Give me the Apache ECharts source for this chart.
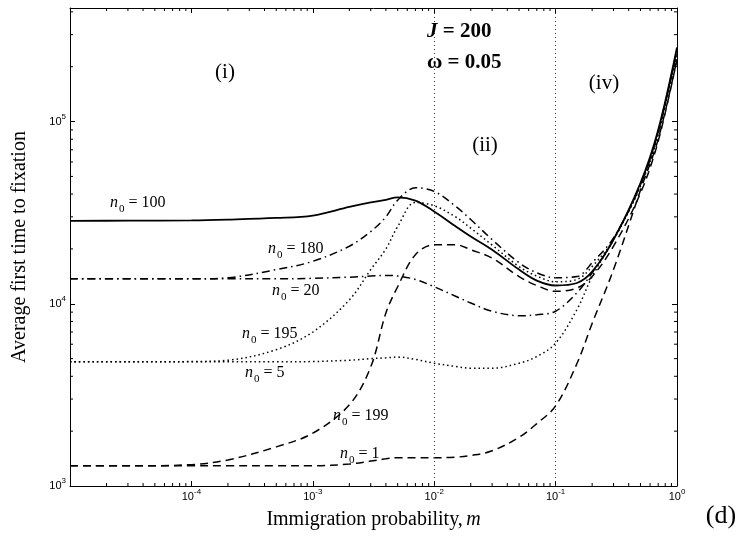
<!DOCTYPE html>
<html><head><meta charset="utf-8">
<script src="https://cdn.jsdelivr.net/npm/echarts@6/dist/echarts.min.js"></script>
<style>html,body{margin:0;padding:0;background:#fff}#c{width:738px;height:554px}</style>
</head><body><div id="c"></div>
<script>
// Immigration probability m (x grid)
const M = [1e-5, 3e-5, 1e-4, 2e-4, 5e-4, 1e-3, 2e-3, 3e-3, 4e-3, 5e-3, 7e-3, 1e-2, 1.5e-2, 2e-2, 3e-2, 5e-2, 7e-2, 0.1, 0.15, 0.2, 0.3, 0.5, 0.7, 1];
// Average first time to fixation, per initial abundance n0
const N100 = [2.85e4, 2.86e4, 2.87e4, 2.9e4, 2.96e4, 3.05e4, 3.4e4, 3.6e4, 3.72e4, 3.84e4, 3.68e4, 3.21e4, 2.66e4, 2.34e4, 1.98e4, 1.54e4, 1.34e4, 1.26e4, 1.30e4, 1.50e4, 2.25e4, 4.6e4, 9.0e4, 2.55e5];
const N180 = [1.37e4, 1.37e4, 1.37e4, 1.39e4, 1.54e4, 1.71e4, 2.07e4, 2.49e4, 3.0e4, 3.7e4, 4.33e4, 4.14e4, 3.43e4, 2.9e4, 2.25e4, 1.68e4, 1.48e4, 1.39e4, 1.41e4, 1.68e4, 2.3e4, 4.5e4, 8.8e4, 2.5e5];
const N20 = [1.37e4, 1.37e4, 1.37e4, 1.37e4, 1.37e4, 1.38e4, 1.40e4, 1.42e4, 1.43e4, 1.42e4, 1.36e4, 1.24e4, 1.10e4, 1.01e4, 9.1e3, 8.6e3, 8.7e3, 9.1e3, 1.15e4, 1.48e4, 2.25e4, 4.5e4, 8.8e4, 2.45e5];
const N195 = [4.8e3, 4.8e3, 4.82e3, 4.9e3, 5.6e3, 7.0e3, 1.05e4, 1.54e4, 2.0e4, 2.65e4, 3.6e4, 3.45e4, 3.0e4, 2.6e4, 2.1e4, 1.6e4, 1.42e4, 1.32e4, 1.36e4, 1.6e4, 2.25e4, 4.5e4, 8.7e4, 2.45e5];
const N199 = [1.29e3, 1.29e3, 1.31e3, 1.39e3, 1.64e3, 1.95e3, 2.79e3, 4.5e3, 8.9e3, 1.24e4, 1.86e4, 2.11e4, 2.11e4, 1.98e4, 1.78e4, 1.41e4, 1.26e4, 1.17e4, 1.22e4, 1.41e4, 2.07e4, 4.05e4, 7.8e4, 2.2e5];
const N5 = [4.8e3, 4.8e3, 4.8e3, 4.8e3, 4.8e3, 4.82e3, 4.9e3, 5.0e3, 5.05e3, 5.1e3, 4.95e3, 4.72e3, 4.53e3, 4.43e3, 4.43e3, 4.72e3, 5.13e3, 6.08e3, 9.3e3, 1.41e4, 2.25e4, 4.4e4, 8.5e4, 2.4e5];
const N1 = [1.29e3, 1.29e3, 1.29e3, 1.29e3, 1.29e3, 1.29e3, 1.32e3, 1.37e3, 1.41e3, 1.43e3, 1.43e3, 1.43e3, 1.44e3, 1.47e3, 1.56e3, 1.85e3, 2.2e3, 2.75e3, 4.7e3, 7.8e3, 1.54e4, 4.2e4, 8.0e4, 2.2e5];
// regime boundaries (vertical dotted lines)
const BOUNDS = [0.005, 0.1];
// axis ranges
const X_MIN = 1e-5, X_MAX = 1, Y_MIN = 1e3, Y_MAX = 4.2e5;

const serif = 'Liberation Serif';
const sans = 'Liberation Sans';

function minorTicks(lo, hi) {
  const out = [];
  for (let k = Math.floor(Math.log10(lo)); k <= Math.ceil(Math.log10(hi)); k++) {
    for (let j = 2; j <= 9; j++) { const v = j * Math.pow(10, k); if (v > lo && v < hi) out.push(v); }
  }
  return out;
}
const XMINOR = minorTicks(X_MIN, X_MAX);
const YMINOR = minorTicks(Y_MIN, Y_MAX);

function expLabel(skip) {
  return function (v) {
    const e = Math.log10(v); const r = Math.round(e);
    if (Math.abs(e - r) > 1e-6 || (skip && skip.indexOf(r) >= 0)) return '';
    return '{b|10}{e|' + r + '}';
  };
}
const expRich = {
  b: { fontFamily: sans, fontSize: 11, color: '#000' },
  e: { fontFamily: sans, fontSize: 8, color: '#000', padding: [0, 0, 10, 0] }
};

function mk(name, data, type, width) {
  return {
    name: name, type: 'line', xAxisIndex: 0, yAxisIndex: 0, symbol: 'none', smooth: 0.35,
    data: M.map((m, i) => [m, data[i]]),
    lineStyle: { color: '#000', width: width || 1.5, type: type },
    z: 3
  };
}
const DASH = [8, 5], DOT = [1.5, 3], DASHDOT = [8, 4, 1.5, 4];

const tickSeries = (vals, isX) => ({
  type: 'custom', xAxisIndex: 0, yAxisIndex: 0, silent: true, clip: false, z: 4,
  data: vals.map(v => isX ? [v, Y_MIN] : [X_MIN, v]),
  renderItem: function (params, api) {
    const cs = params.coordSys;
    const p = api.coord([api.value(0), api.value(1)]);
    const st = { stroke: '#000', lineWidth: 1 };
    if (isX) {
      return { type: 'group', children: [
        { type: 'line', shape: { x1: p[0], y1: cs.y + cs.height, x2: p[0], y2: cs.y + cs.height - 3 }, style: st },
        { type: 'line', shape: { x1: p[0], y1: cs.y, x2: p[0], y2: cs.y + 3 }, style: st }
      ] };
    }
    return { type: 'group', children: [
      { type: 'line', shape: { x1: cs.x, y1: p[1], x2: cs.x + 3, y2: p[1] }, style: st },
      { type: 'line', shape: { x1: cs.x + cs.width, y1: p[1], x2: cs.x + cs.width - 3, y2: p[1] }, style: st }
    ] };
  }
});

const axisCommon = {
  axisLine: { show: true, lineStyle: { color: '#000', width: 1 } },
  axisTick: { show: true, inside: true, length: 5, lineStyle: { color: '#000', width: 1 } },
  splitLine: { show: false }
};

const nRich = {
  n: { fontFamily: serif, fontStyle: 'italic', fontSize: 16, color: '#000' },
  s: { fontFamily: serif, fontSize: 11, color: '#000', padding: [13, 0, 0, 1] },
  t: { fontFamily: serif, fontSize: 16, color: '#000' }
};
function nLabel(txt, x, cy) {
  return { type: 'text', x: x, y: cy, z: 10, style: { text: '{n|n}{s|0}{t| = ' + txt + '}', rich: nRich, align: 'left', verticalAlign: 'middle' } };
}
function plain(txt, x, y, size) {
  return { type: 'text', x: x, y: y, z: 10, style: { text: txt, fontFamily: serif, fontSize: size, fill: '#000', align: 'center', verticalAlign: 'middle' } };
}

const chart = echarts.init(document.getElementById('c'), null, { renderer: 'canvas' });
chart.setOption({
  animation: false,
  backgroundColor: '#fff',
  grid: { left: 70, right: 61, top: 8, bottom: 68, show: false },
  xAxis: [
    Object.assign({}, axisCommon, {
      type: 'log', logBase: 10, min: X_MIN, max: X_MAX, position: 'bottom',
      axisLabel: { formatter: expLabel([-5]), rich: expRich, margin: 2, showMinLabel: true, showMaxLabel: true },
      name: '{a|Immigration probability,} {m|m}', nameLocation: 'middle', nameGap: 24,
      nameTextStyle: { rich: {
        a: { fontFamily: serif, fontSize: 20, color: '#000' },
        m: { fontFamily: serif, fontSize: 20, fontStyle: 'italic', color: '#000' } } }
    }),
    Object.assign({}, axisCommon, {
      type: 'log', logBase: 10, min: X_MIN, max: X_MAX, position: 'top', axisLabel: { show: false }
    })
  ],
  yAxis: [
    Object.assign({}, axisCommon, {
      type: 'log', logBase: 10, min: Y_MIN, max: Y_MAX, position: 'left',
      axisLabel: { formatter: expLabel([]), rich: expRich, margin: 4 },
      name: 'Average first time to fixation', nameLocation: 'middle', nameRotate: 90, nameGap: 40,
      nameTextStyle: { fontFamily: serif, fontSize: 20, color: '#000' }
    }),
    Object.assign({}, axisCommon, {
      type: 'log', logBase: 10, min: Y_MIN, max: Y_MAX, position: 'right', axisLabel: { show: false }
    })
  ],
  series: [
    Object.assign(mk('n0 = 100', N100, 'solid', 1.8), {
      markLine: {
        silent: true, symbol: 'none', label: { show: false },
        lineStyle: { color: '#333', width: 1, type: [1, 3] },
        data: BOUNDS.map(b => ({ xAxis: b }))
      }
    }),
    mk('n0 = 180', N180, DASHDOT),
    mk('n0 = 20', N20, DASHDOT),
    mk('n0 = 195', N195, DOT),
    mk('n0 = 5', N5, DOT),
    mk('n0 = 199', N199, DASH),
    mk('n0 = 1', N1, DASH),
    tickSeries(XMINOR, true),
    tickSeries(YMINOR, false)
  ],
  graphic: [
    nLabel('100', 110, 203),
    nLabel('180', 268, 249),
    nLabel('20', 272, 291),
    nLabel('195', 242, 334),
    nLabel('5', 245, 373),
    nLabel('199', 333, 416),
    nLabel('1', 340, 454),
    { type: 'text', x: 427, y: 32, z: 10, style: { text: '{j|J}{t| = 200}', align: 'left', verticalAlign: 'middle', rich: {
      j: { fontFamily: serif, fontSize: 21, fontWeight: 'bold', fontStyle: 'italic', color: '#000' },
      t: { fontFamily: serif, fontSize: 21, fontWeight: 'bold', color: '#000' } } } },
    { type: 'text', x: 427, y: 63, z: 10, style: { text: 'ω = 0.05', fontFamily: serif, fontSize: 21, fontWeight: 'bold', fill: '#000', align: 'left', verticalAlign: 'middle' } },
    plain('(i)', 225, 72, 21),
    plain('(ii)', 485, 145, 21),
    plain('(iv)', 604, 83, 21),
    plain('(d)', 721, 516, 26)
  ]
});
</script>
</body></html>
